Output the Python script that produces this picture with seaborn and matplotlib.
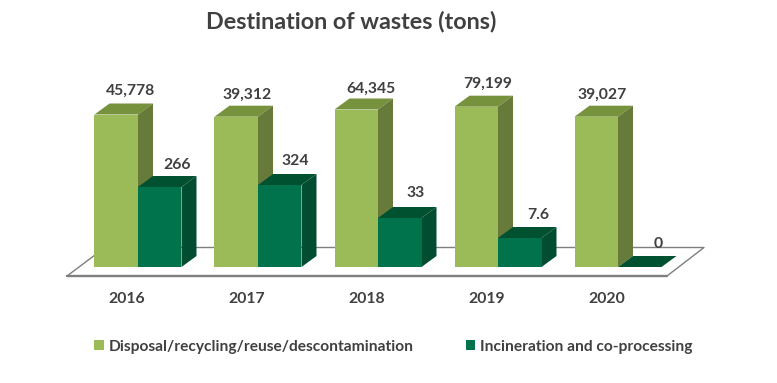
import matplotlib.pyplot as plt
import pandas as pd
import seaborn as sns
from matplotlib.patches import Polygon
from matplotlib.transforms import ScaledTranslation

years = ['2016', '2017', '2018', '2019', '2020']
disposal_name = 'Disposal/recycling/reuse/descontamination'
incineration_name = 'Incineration and co-processing'

# bar heights as drawn in the picture (the original axis is not linear), labels carry the real values
disposal_heights = [152.5, 150.3, 157.5, 160.3, 150.3]
incineration_heights = [80, 82, 49, 29, 0]
disposal_labels = ['45,778', '39,312', '64,345', '79,199', '39,027']
incineration_labels = ['266', '324', '33', '7.6', '0']

disposal_colors = ('#9BBB59', '#76923C', '#677A39')
incineration_colors = ('#00734D', '#00512F', '#004D32')
text_color = '#404040'

sns.set_theme(style='white')
plt.rcParams['font.family'] = ['Lato', 'DejaVu Sans']
plt.rcParams['font.weight'] = 'bold'

df = pd.DataFrame({
    'year': years * 2,
    'height': disposal_heights + incineration_heights,
    'destination': [disposal_name] * 5 + [incineration_name] * 5,
})

fig = plt.figure(figsize=(7.77, 3.83), dpi=100)
ax = fig.add_axes([0, 116 / 383, 1, 267 / 383])

sns.barplot(data=df, x='year', y='height', hue='destination',
            palette=[disposal_colors[0], incineration_colors[0]],
            width=0.725, gap=0, saturation=1, linewidth=0, ax=ax)

ax.set_xlim(-138 / 120, (777 - 138) / 120)
ax.set_ylim(0, 267)
ax.set(xlabel='', ylabel='', yticks=[])
sns.despine(ax=ax, left=True, bottom=True)
ax.patch.set_alpha(0)
ax.tick_params(axis='x', length=0, pad=18, labelsize=11.3, labelcolor=text_color)

# year labels sit left of the bar pair in the original
shift = ScaledTranslation(-11 / 100, 0, fig.dpi_scale_trans)
for tick in ax.get_xticklabels():
    tick.set_transform(tick.get_transform() + shift)


def px(x):
    return (x - 138) / 120


# floor of the 3d chart
floor = '#7F7F7F'
ax.plot([px(67), px(667)], [-9, -9], color=floor, lw=1.7, clip_on=False, zorder=1)
ax.plot([px(67), px(105), px(704), px(667)], [-9, 19.5, 19.5, -9],
        color=floor, lw=1, clip_on=False, zorder=1)

# depth of the boxes, from the front faces seaborn drew
dx = 15 / 120
dy = 11
for bars, colors, z in zip(ax.containers, (disposal_colors, incineration_colors), (3, 5)):
    for bar in bars:
        bar.set_zorder(z)
        x0 = bar.get_x()
        x1 = x0 + bar.get_width()
        top = bar.get_height()
        ax.add_patch(Polygon([(x0, top), (x1, top), (x1 + dx, top + dy), (x0 + dx, top + dy)],
                             facecolor=colors[1], edgecolor='none', zorder=z - 1))
        ax.add_patch(Polygon([(x1, 0), (x1 + dx, dy), (x1 + dx, top + dy), (x1, top)],
                             facecolor=colors[2], edgecolor='none', zorder=z - 1))

# the value labels sit above the boxes, nudged by hand like in the original
disposal_nudge = [(14.5, 24), (11, 22), (15, 21), (11, 23), (6, 22)]
incineration_nudge = [(17, 22), (16, 24), (16, 25), (19, 23), (18, 23)]
for bars, labels, nudges in zip(ax.containers,
                                (disposal_labels, incineration_labels),
                                (disposal_nudge, incineration_nudge)):
    for bar, label, nudge in zip(bars, labels, nudges):
        ax.annotate(label, (bar.get_x() + bar.get_width() / 2, bar.get_height()),
                    xytext=nudge, textcoords='offset pixels', ha='center', va='center',
                    fontsize=11.3, color=text_color, zorder=7)

fig.text(351 / 777, 1 - 21 / 383, 'Destination of wastes (tons)', ha='center', va='center',
         fontsize=16.8, color=text_color)

sns.move_legend(ax, 'center', bbox_to_anchor=(393.5 / 777, (346.5 - 267) / -267), ncol=2,
                frameon=False, title=None, fontsize=11.15, labelcolor=text_color,
                handlelength=0.6, handleheight=0.6, handletextpad=0.3, columnspacing=3.4)

fig.savefig('out.png', dpi=100)
